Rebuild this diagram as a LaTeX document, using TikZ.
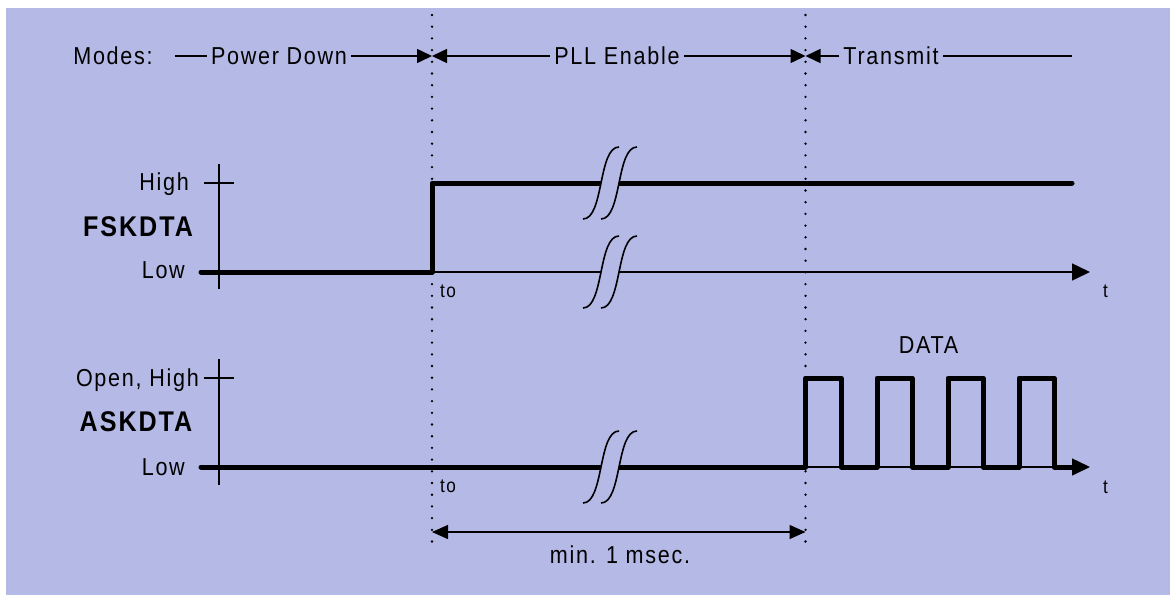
\documentclass[tikz,border=0pt]{standalone}
\usepackage{fontspec}
\setmainfont{Liberation Sans}[FakeStretch=0.88, LetterSpace=7]
\usetikzlibrary{arrows.meta}
\definecolor{bgc}{RGB}{181,185,230}
\tikzset{
  lbl/.style={font=\fontsize{24.5}{28}\selectfont, inner sep=0pt},
  big/.style={font=\bfseries\fontsize{28.5}{32}\selectfont, inner sep=0pt},
  small/.style={font=\fontsize{19.5}{22}\selectfont, inner sep=0pt},
  sig/.style={line width=5pt, line join=round, line cap=round},
  thin/.style={line width=1.5pt},
  dotline/.style={line width=2.6pt, line cap=round, dash pattern=on 0pt off 11.7pt},
  brk/.style={line width=1.6pt},
  modetip/.style={-{Triangle[length=15pt,width=14pt]}},
  axtip/.style={-{Triangle[length=18pt,width=17pt]}},
  dimtip/.style={{Triangle[length=16pt,width=14pt]}-{Triangle[length=16pt,width=14pt]}}
}
\newcommand{\brkmark}[2]{%
  \fill[bgc] (#1-18,#2+36) .. controls (#1+3,#2+36) and (#1-3,#2-36) .. (#1+18,#2-36)
     -- (#1+36,#2-36) .. controls (#1+15,#2-36) and (#1+21,#2+36) .. (#1,#2+36) -- cycle;
  \draw[brk] (#1-18,#2+36) .. controls (#1+3,#2+36) and (#1-3,#2-36) .. (#1+18,#2-36);
  \draw[brk] (#1,#2+36) .. controls (#1+21,#2+36) and (#1+15,#2-36) .. (#1+36,#2-36);
}
\begin{document}
\begin{tikzpicture}[x=1pt,y=-1pt]
\useasboundingbox (0,0) rectangle (1170,595);
\fill[bgc] (6,8) rectangle (1170,595);

% time markers
\coordinate (t0top) at (432,15);
\coordinate (t0bot) at (432,550);
\coordinate (t1top) at (805.5,15);
\coordinate (t1bot) at (805.5,550);
\coordinate (m0) at (432,56);
\coordinate (m1) at (805.5,56);
\draw[dotline] (t0top) -- (t0bot);
\draw[dotline] (t1top) -- (t1bot);

% modes row
\node[lbl, anchor=base] (modes) at (113,64.6) {Modes:};
\node[lbl, anchor=base, inner xsep=4pt] (pd) at (279,64.6) {Power Down};
\node[lbl, anchor=base, inner xsep=4pt] (pll) at (617,64.6) {PLL Enable};
\node[lbl, anchor=base, inner xsep=4pt] (tx) at (891,64.6) {Transmit};
\coordinate (ms) at (175,56);
\coordinate (me) at (1072,56);
\draw[thin] (ms) -- (ms -| pd.west);
\draw[thin, modetip] (m0 -| pd.east) -- (m0);
\draw[thin, modetip] (m0 -| pll.west) -- (m0);
\draw[thin, modetip] (m1 -| pll.east) -- (m1);
\draw[thin, modetip] (m1 -| tx.west) -- (m1);
\draw[thin] (me -| tx.east) -- (me);

% FSKDTA
\node[lbl, anchor=base east] (fhigh) at (189,190) {High};
\node[big, anchor=base] (fsk) at (138,236.7) {FSKDTA};
\node[lbl, anchor=base east] (flow) at (185,278) {Low};
\coordinate (fax1) at (219,164);
\coordinate (fax2) at (219,289);
\coordinate (ftk1) at (204,183);
\coordinate (ftk2) at (234,183);
\coordinate (fa0) at (219,272);
\coordinate (fa1) at (1090,272);
\draw[thin] (fax1) -- (fax2);
\draw[thin] (ftk1) -- (ftk2);
\draw[thin, axtip] (fa0) -- (fa1);
\coordinate (fs0) at (201,272);
\coordinate (fs1) at (432,272);
\coordinate (fs2) at (432,183);
\coordinate (fs3) at (1072,183);
\draw[sig] (fs0) -- (fs1) -- (fs2) -- (fs3);
\brkmark{601}{183}
\brkmark{601}{272}
\node[small, anchor=base west] (fto) at (440,297) {to};
\node[small, anchor=base west] (ft) at (1103,297) {t};

% ASKDTA
\node[lbl, anchor=base east] (ahigh) at (199,386) {Open, High};
\node[big, anchor=base] (ask) at (136,431.7) {ASKDTA};
\node[lbl, anchor=base east] (alow) at (185,475) {Low};
\coordinate (aax1) at (219,359);
\coordinate (aax2) at (219,485);
\coordinate (atk1) at (204,378);
\coordinate (atk2) at (234,378);
\coordinate (aa0) at (219,467);
\coordinate (aa1) at (1090,467);
\draw[thin] (aax1) -- (aax2);
\draw[thin] (atk1) -- (atk2);
\draw[thin, axtip] (aa0) -- (aa1);
\draw[sig] (201,467) -- (805.5,467) -- (805.5,378) -- (841,378) -- (841,467)
  -- (877,467) -- (877,378) -- (912,378) -- (912,467)
  -- (948,467) -- (948,378) -- (983,378) -- (983,467)
  -- (1019,467) -- (1019,378) -- (1054,378) -- (1054,467) -- (1074,467);
\brkmark{601}{467}
\node[small, anchor=base west] (ato) at (440,492) {to};
\node[small, anchor=base west] (at) at (1103,493) {t};
\node[lbl, anchor=base] (data) at (928.5,353) {DATA};

% dimension
\coordinate (d0) at (432,532);
\coordinate (d1) at (805.5,532);
\draw[thin, dimtip] (d0) -- (d1);
\node[lbl, anchor=base] (dim) at (620,563) {min. 1 msec.};
\end{tikzpicture}
\end{document}
